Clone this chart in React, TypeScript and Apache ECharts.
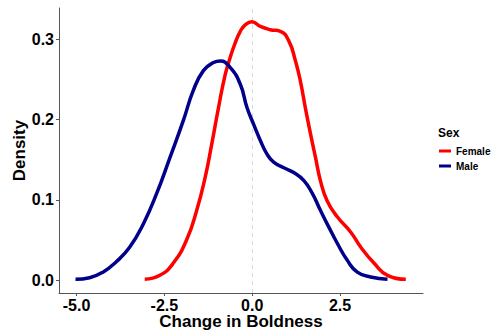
import React, { useEffect, useRef } from "react";
import * as echarts from "echarts";

const femaleX = [-3.06, -2.63, -2.25, -1.87, -1.58, -1.34, -1.15, -0.96, -0.77, -0.63, -0.49, -0.34, -0.2, -0.01, 0.23, 0.51, 0.8, 1.04, 1.23, 1.37, 1.51, 1.66, 1.8, 1.94, 2.13, 2.42, 2.8, 3.09, 3.47, 3.85, 4.37];
const femaleY = [0.001, 0.006, 0.021, 0.05, 0.087, 0.128, 0.17, 0.215, 0.256, 0.277, 0.295, 0.31, 0.318, 0.322, 0.316, 0.312, 0.31, 0.298, 0.273, 0.248, 0.215, 0.182, 0.153, 0.124, 0.099, 0.079, 0.06, 0.041, 0.021, 0.006, 0.001];
const maleX = [-5.03, -4.63, -4.25, -3.87, -3.49, -3.1, -2.72, -2.34, -1.96, -1.68, -1.39, -1.1, -0.91, -0.63, -0.34, -0.15, 0.04, 0.23, 0.42, 0.61, 0.9, 1.18, 1.47, 1.71, 1.94, 2.18, 2.42, 2.7, 2.99, 3.37, 3.85];
const maleY = [0.001, 0.003, 0.01, 0.023, 0.041, 0.07, 0.108, 0.153, 0.199, 0.236, 0.261, 0.271, 0.273, 0.265, 0.244, 0.215, 0.194, 0.174, 0.157, 0.147, 0.14, 0.134, 0.124, 0.108, 0.087, 0.066, 0.046, 0.025, 0.01, 0.004, 0.001];
const xTicks = [-5, -2.5, 0, 2.5];
const yTicks = [0, 0.1, 0.2, 0.3];
const seriesNames = ["Female", "Male"];

const FONT = "'Liberation Sans', Arial, sans-serif";

export default function App() {
  const ref = useRef<HTMLDivElement>(null);
  useEffect(() => {
    if (!ref.current) return;
    const chart = echarts.init(ref.current, undefined, { renderer: "svg" });
    const pairs = (xs: number[], ys: number[]) => xs.map((x, i) => [x, ys[i]]);
    chart.setOption({
      animation: false,
      backgroundColor: "#ffffff",
      textStyle: { fontFamily: FONT },
      title: {
        text: "Sex",
        left: 438,
        top: 127,
        padding: 0,
        textStyle: { fontSize: 12, fontWeight: "bold", color: "#000", fontFamily: FONT },
      },
      legend: {
        data: seriesNames,
        orient: "vertical",
        left: 439,
        top: 144,
        padding: 0,
        itemWidth: 12,
        itemHeight: 3,
        itemGap: 1,
        icon: "rect",
        textStyle: { fontSize: 10, fontWeight: "bold", color: "#000", lineHeight: 14, fontFamily: FONT },
      },
      grid: { left: 59, right: 69, top: 8, bottom: 37, containLabel: false, outerBoundsMode: "none" },
      xAxis: {
        type: "value",
        min: -5.5,
        max: 4.86,
        name: "Change in Boldness",
        nameLocation: "middle",
        nameGap: 20,
        nameMoveOverlap: false,
        nameTextStyle: { fontSize: 17, fontWeight: "bold", color: "#000", fontFamily: FONT },
        axisLine: { show: true, onZero: false, lineStyle: { color: "#555", width: 1 } },
        axisTick: { show: true, length: 3, lineStyle: { color: "#555" }, customValues: xTicks },
        axisLabel: {
          customValues: xTicks,
          margin: 4,
          fontSize: 16,
          fontWeight: "bold",
          color: "#000",
          fontFamily: FONT,
          formatter: (v: number) => v.toFixed(1),
        },
        splitLine: { show: false },
      },
      yAxis: {
        type: "value",
        min: -0.016,
        max: 0.339,
        name: "Density",
        nameLocation: "middle",
        nameGap: 31,
        nameRotate: 90,
        nameMoveOverlap: false,
        nameTextStyle: { fontSize: 17, fontWeight: "bold", color: "#000", fontFamily: FONT },
        axisLine: { show: true, onZero: false, lineStyle: { color: "#555", width: 1 } },
        axisTick: { show: true, length: 3, lineStyle: { color: "#555" }, customValues: yTicks },
        axisLabel: {
          customValues: yTicks,
          margin: 5,
          fontSize: 16,
          fontWeight: "bold",
          color: "#000",
          fontFamily: FONT,
          formatter: (v: number) => v.toFixed(1),
        },
        splitLine: { show: false },
      },
      series: [
        {
          name: seriesNames[0],
          type: "line",
          data: pairs(femaleX, femaleY),
          smooth: 0.5,
          showSymbol: false,
          symbol: "none",
          color: "#ff0000",
          lineStyle: { color: "#ff0000", width: 3.5 },
          z: 3,
          markLine: {
            silent: true,
            symbol: "none",
            label: { show: false },
            lineStyle: { color: "#d9d9d9", type: [4, 4], width: 1 },
            data: [{ xAxis: 0 }],
            z: 1,
          },
        },
        {
          name: seriesNames[1],
          type: "line",
          data: pairs(maleX, maleY),
          smooth: 0.5,
          showSymbol: false,
          symbol: "none",
          color: "#00008b",
          lineStyle: { color: "#00008b", width: 3.5 },
          z: 4,
        },
      ],
    });
    return () => chart.dispose();
  }, []);
  return <div ref={ref} style={{ width: 492, height: 330, position: "absolute", left: 0, top: 0 }} />;
}
